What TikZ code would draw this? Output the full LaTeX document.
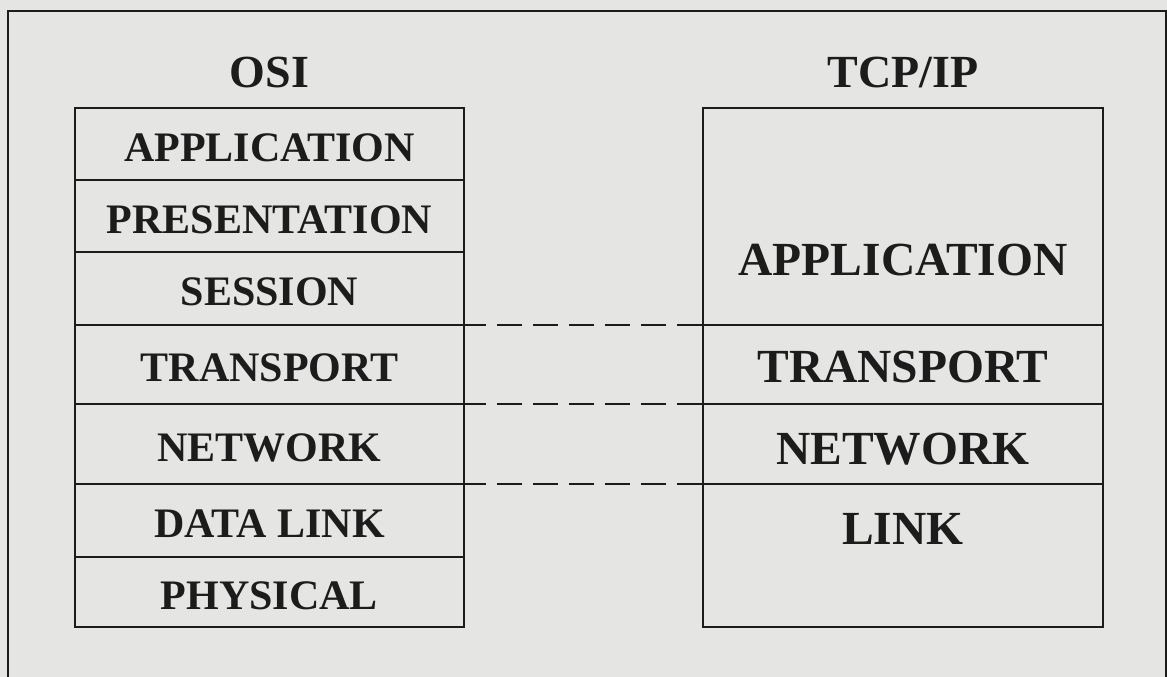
\documentclass[tikz,border=0pt]{standalone}
\usepackage{fontspec}
\setmainfont{Liberation Serif}
\usetikzlibrary{positioning}
\definecolor{paper}{RGB}{229,230,227}
\definecolor{ink}{RGB}{28,28,28}
\tikzset{
  layer/.style={draw=ink, line width=2pt, rectangle, inner sep=0pt, outer sep=0pt,
    text=ink, font=\bfseries},
  osilayer/.style={layer, minimum width=389pt, text height=34pt, text depth=0pt,
    font=\fontsize{42}{48}\selectfont\bfseries},
  tcplayer/.style={layer, minimum width=400pt, text height=36pt, text depth=0pt,
    font=\fontsize{47.5}{54}\selectfont\bfseries},
  stacktitle/.style={inner sep=0pt, text=ink, font=\fontsize{46}{52}\selectfont\bfseries},
  linkdash/.style={draw=ink, line width=2pt, dash pattern=on 25pt off 11pt, dash phase=3pt}
}

\begin{document}
\begin{tikzpicture}[x=1pt, y=-1pt]
% Page
    \fill[paper] (0,0) rectangle (1167,677);
    \useasboundingbox (0,0) rectangle (1167,677);
% Frame
    \draw[ink, line width=2pt] (8,677) -- (8,11) -- (1166,11) -- (1166,677);
% OSI stack
    \node[osilayer, minimum height=72pt] (osiapp) at (269.5,144) {APPLICATION};
    \node[osilayer, minimum height=72pt, below=0pt of osiapp] (osipres) {PRESENTATION};
    \node[osilayer, minimum height=73pt, below=0pt of osipres] (osisess) {SESSION};
    \node[osilayer, minimum height=79pt, below=0pt of osisess] (ositrans) {TRANSPORT};
    \node[osilayer, minimum height=80pt, below=0pt of ositrans] (osinet) {NETWORK};
    \node[osilayer, minimum height=73pt, below=0pt of osinet] (osidata) {DATA LINK};
    \node[osilayer, minimum height=70pt, below=0pt of osidata] (osiphys) {PHYSICAL};
    \node[stacktitle, above=20pt of osiapp] (osititle) {OSI};
% TCP/IP stack
    \node[tcplayer, minimum height=217pt, text height=118pt] (tcpapp) at (903,216.5) {APPLICATION};
    \node[tcplayer, minimum height=79pt, below=0pt of tcpapp] (tcptrans) {TRANSPORT};
    \node[tcplayer, minimum height=80pt, text height=41pt, below=0pt of tcptrans] (tcpnet) {NETWORK};
    \node[tcplayer, minimum height=143pt, text height=31.5pt, text depth=53pt, below=0pt of tcpnet] (tcplink) {LINK};
    \node[stacktitle, above=20pt of tcpapp] (tcptitle) {TCP/IP};
% Layer correspondence
    \draw[linkdash] (ositrans.north east) -- (tcptrans.north west);
    \draw[linkdash] (osinet.north east) -- (tcpnet.north west);
    \draw[linkdash] (osidata.north east) -- (tcplink.north west);
\end{tikzpicture}
\end{document}
